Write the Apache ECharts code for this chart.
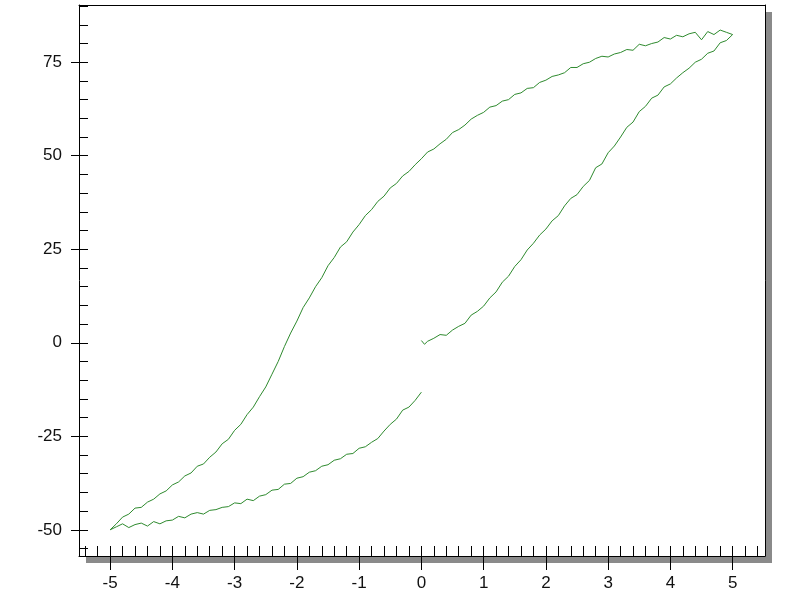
<!DOCTYPE html>
<html>
<head>
<meta charset="utf-8">
<script src="https://cdn.jsdelivr.net/npm/echarts@6/dist/echarts.min.js"></script>
<style>
html,body{margin:0;padding:0;background:#fff;}
#chart{width:800px;height:616px;}
</style>
</head>
<body>
<div id="chart"></div>
<script>
// initial curve, 0 -> +5
var rightX=[0,0.05,0.1,0.2,0.3,0.4,0.5,0.6,0.7,0.8,0.9,1.0,1.1,1.2,1.3,1.4,1.5,1.6,1.7,1.8,1.9,2.0,2.1,2.2,2.3,2.4,2.5,2.6,2.7,2.8,2.9,3.0,3.1,3.2,3.3,3.4,3.5,3.6,3.7,3.8,3.9,4.0,4.1,4.2,4.3,4.4,4.5,4.6,4.7,4.8,4.9,5.0]
var rightY=[0.6,-0.4,0.4,1.2,2.2,2.0,3.4,4.4,5.2,7.4,8.4,9.8,12.0,13.6,16.2,17.8,20.4,22.2,24.8,26.6,28.8,30.4,32.6,34.0,36.6,38.6,39.6,41.8,43.4,46.8,47.8,50.8,52.6,55.0,57.6,59.0,61.8,63.2,65.4,66.2,68.4,69.2,70.8,72.2,73.4,75.0,75.8,77.4,78.0,80.2,80.8,82.4]
// upper branch, +5 -> -5
var upperX=[5.0,4.9,4.8,4.7,4.6,4.5,4.4,4.3,4.2,4.1,4.0,3.9,3.8,3.7,3.6,3.5,3.4,3.3,3.2,3.1,3.0,2.9,2.8,2.7,2.6,2.5,2.4,2.3,2.2,2.1,2.0,1.9,1.8,1.7,1.6,1.5,1.4,1.3,1.2,1.1,1.0,0.9,0.8,0.7,0.6,0.5,0.4,0.3,0.2,0.1,0.0,-0.1,-0.2,-0.3,-0.4,-0.5,-0.6,-0.7,-0.8,-0.9,-1.0,-1.1,-1.2,-1.3,-1.4,-1.5,-1.6,-1.7,-1.8,-1.9,-2.0,-2.1,-2.2,-2.3,-2.4,-2.5,-2.6,-2.7,-2.8,-2.9,-3.0,-3.1,-3.2,-3.3,-3.4,-3.5,-3.6,-3.7,-3.8,-3.9,-4.0,-4.1,-4.2,-4.3,-4.4,-4.5,-4.6,-4.7,-4.8,-4.9,-5.0]
var upperY=[82.4,83.0,83.6,82.4,83.2,81.0,83.0,82.6,81.8,82.2,81.2,81.6,80.4,80.0,79.4,79.8,78.2,78.4,77.6,77.2,76.4,76.6,76.0,75.0,74.6,73.6,73.6,72.2,71.6,71.2,70.2,69.6,68.2,68.0,66.8,66.4,65.0,64.6,63.4,63.0,61.6,60.8,59.8,58.2,57.0,56.2,54.4,53.2,51.8,51.0,49.2,47.6,45.8,44.6,42.6,41.4,39.2,37.8,35.6,34.0,31.6,29.6,27.0,25.6,22.8,20.6,17.4,15.0,12.0,9.4,5.8,2.6,-1.0,-5.0,-8.4,-11.8,-14.4,-17.2,-19.2,-21.8,-23.4,-25.8,-27.0,-29.2,-30.6,-32.4,-33.0,-34.8,-35.6,-37.2,-38.0,-39.6,-40.4,-41.8,-42.6,-44.0,-44.2,-45.8,-46.6,-48.4,-50.0]
// lower branch, -5 -> 0
var lowerX=[-5.0,-4.9,-4.8,-4.7,-4.6,-4.5,-4.4,-4.3,-4.2,-4.1,-4.0,-3.9,-3.8,-3.7,-3.6,-3.5,-3.4,-3.3,-3.2,-3.1,-3.0,-2.9,-2.8,-2.7,-2.6,-2.5,-2.4,-2.3,-2.2,-2.1,-2.0,-1.9,-1.8,-1.7,-1.6,-1.5,-1.4,-1.3,-1.2,-1.1,-1.0,-0.9,-0.8,-0.7,-0.6,-0.5,-0.4,-0.3,-0.2,-0.1,0.0]
var lowerY=[-50.0,-49.2,-48.4,-49.4,-48.6,-48.2,-49.0,-47.8,-48.4,-47.6,-47.4,-46.4,-46.8,-45.8,-45.4,-45.8,-44.8,-44.6,-44.0,-43.8,-42.8,-43.0,-41.8,-42.2,-41.0,-40.6,-39.4,-39.2,-37.8,-37.6,-36.2,-35.8,-34.6,-34.2,-33.0,-32.6,-31.4,-31.0,-29.8,-29.6,-28.2,-27.8,-26.6,-25.6,-23.6,-21.8,-20.4,-18.0,-17.2,-15.4,-13.2]

var xLabels=[-5,-4,-3,-2,-1,0,1,2,3,4,5]
var yLabels=[-50,-25,0,25,50,75]
var xMinor=[-5.4,-5.2,-5,-4.8,-4.6,-4.4,-4.2,-4,-3.8,-3.6,-3.4,-3.2,-3,-2.8,-2.6,-2.4,-2.2,-2,-1.8,-1.6,-1.4,-1.2,-1,-0.8,-0.6,-0.4,-0.2,0,0.2,0.4,0.6,0.8,1,1.2,1.4,1.6,1.8,2,2.2,2.4,2.6,2.8,3,3.2,3.4,3.6,3.8,4,4.2,4.4,4.6,4.8,5,5.2,5.4]
var yMinor=[-55,-50,-45,-40,-35,-30,-25,-20,-15,-10,-5,0,5,10,15,20,25,30,35,40,45,50,55,60,65,70,75,80,85,90]

function pairs(xs,ys){
    let out=[]
    xs.forEach((x,i)=>{ out.push([x,ys[i]]) })
    return out
}

var chart=echarts.init(document.getElementById('chart'))
var lineColor='#2e8a2e'
var font={fontFamily:'Liberation Sans, Arial, sans-serif',fontSize:17,color:'#111'}
var xRange={min:-5.5,max:5.52}
var yRange={min:-57,max:90.3}

// frame line only, used for top and right edges
function frameAxis(pos,range){
    return Object.assign({
        type:'value',position:pos,
        axisLine:{show:true,onZero:false,lineStyle:{color:'#000',width:1}},
        axisTick:{show:false},axisLabel:{show:false},splitLine:{show:false}
    },range)
}

var option={
    animation:false,
    grid:{
        show:true,
        left:79,right:35,top:5,bottom:60,
        backgroundColor:'#fff',
        borderWidth:0,
        shadowColor:'#8a8a8a',
        shadowBlur:0,
        shadowOffsetX:7,
        shadowOffsetY:7
    },
    xAxis:[Object.assign({
        type:'value',position:'bottom',
        axisLine:{show:true,onZero:false,lineStyle:{color:'#000',width:1}},
        axisTick:{show:true,inside:true,length:10,customValues:xMinor,lineStyle:{color:'#000'}},
        axisLabel:{show:false},
        splitLine:{show:false}
    },xRange),Object.assign({
        type:'value',position:'bottom',offset:0,
        axisLine:{show:false,onZero:false},
        axisTick:{show:true,inside:false,length:14,customValues:xLabels,lineStyle:{color:'#000'}},
        axisLabel:Object.assign({show:true,margin:19,customValues:xLabels},font),
        splitLine:{show:false}
    },xRange),frameAxis('top',xRange)],
    yAxis:[Object.assign({
        type:'value',position:'left',
        axisLine:{show:true,onZero:false,lineStyle:{color:'#000',width:1}},
        axisTick:{show:true,inside:true,length:9,customValues:yMinor,lineStyle:{color:'#000'}},
        axisLabel:{show:false},
        splitLine:{show:false}
    },yRange),Object.assign({
        type:'value',position:'left',offset:0,
        axisLine:{show:false,onZero:false},
        axisTick:{show:true,inside:false,length:8,customValues:yLabels,lineStyle:{color:'#000'}},
        axisLabel:Object.assign({show:true,margin:17,customValues:yLabels},font),
        splitLine:{show:false}
    },yRange),frameAxis('right',yRange)],
    series:[{
        name:'initial',type:'line',showSymbol:false,
        lineStyle:{color:lineColor,width:1},
        data:pairs(rightX,rightY)
    },{
        name:'upper',type:'line',showSymbol:false,
        lineStyle:{color:lineColor,width:1},
        data:pairs(upperX,upperY)
    },{
        name:'lower',type:'line',showSymbol:false,
        lineStyle:{color:lineColor,width:1},
        data:pairs(lowerX,lowerY)
    }]
}

chart.setOption(option)
</script>
</body>
</html>
